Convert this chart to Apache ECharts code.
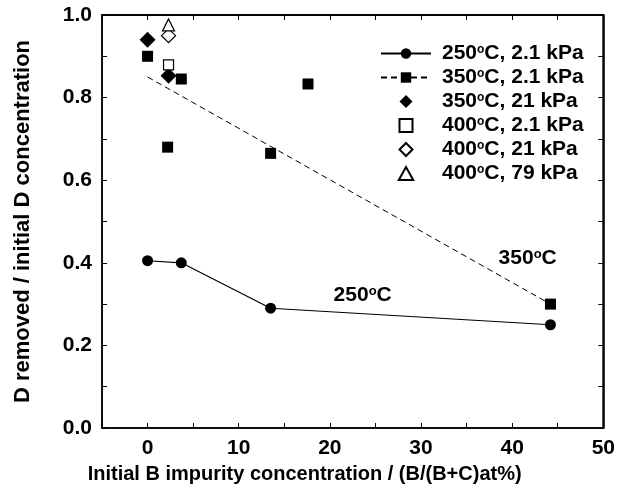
<!DOCTYPE html>
<html>
<head>
<meta charset="utf-8">
<script src="https://cdn.jsdelivr.net/npm/echarts@6/dist/echarts.min.js"></script>
<style>
  html, body { margin: 0; padding: 0; background: #fff; }
  #chart { width: 618px; height: 494px; }
</style>
</head>
<body>
<div id="chart"></div>
<script>
// data
const x250 = [0, 3.7, 13.5, 44.2];
const y250 = [0.405, 0.40, 0.29, 0.25];

const x350 = [0, 2.2, 3.7, 13.5, 17.6, 44.2];
const y350 = [0.90, 0.68, 0.845, 0.665, 0.833, 0.30];

// dashed fit through the 350°C, 2.1 kPa points
const xFit = [0, 44.2];
const yFit = [0.85, 0.30];

const x350hi = [0, 2.3];
const y350hi = [0.94, 0.853];

const x400a = [2.3];
const y400a = [0.879];
const x400b = [2.3];
const y400b = [0.95];
const x400c = [2.3];
const y400c = [0.976];

const names = [
  '250°C, 2.1 kPa',
  '350°C, 2.1 kPa',
  '350°C, 21 kPa',
  '400°C, 2.1 kPa',
  '400°C, 21 kPa',
  '400°C, 79 kPa'
];

const notes = ['350°C', '250°C'];
const noteX = [41.7, 23.6];
const noteY = [0.41, 0.321];

// axis ranges
const X_MIN = -5, X_MAX = 50, X_STEP = 5;
const Y_MIN = 0, Y_MAX = 1, Y_STEP = 0.1;

const pairs = (xs, ys) => xs.map((x, i) => [x, ys[i]]);
const degree = (s) => s.replace('°', '{o|o}');

const FONT = 'Liberation Sans, Arial, sans-serif';
const supStyle = { fontSize: 12, fontWeight: 'bold', fontFamily: FONT, color: '#000', verticalAlign: 'top', lineHeight: 13 };

// legend icons as paths so they keep their aspect
const ICON_DIAMOND = 'path://M5,0L10,5L5,10L0,5Z';
const ICON_SQUARE = 'path://M0,0L10,0L10,10L0,10Z';
const ICON_TRIANGLE = 'path://M5,0L10,9L0,9Z';

const chart = echarts.init(document.getElementById('chart'));

const axisBase = () => ({
  axisLine: { show: true, onZero: false, lineStyle: { color: '#000', width: 1.5 } },
  axisTick: { show: true, inside: true, length: 5, lineStyle: { color: '#000', width: 1 } },
  splitLine: { show: false }
});

const solidItem = { color: '#000', opacity: 1 };
const openItem = { color: '#fff', borderColor: '#000', borderWidth: 1.2, opacity: 1 };

const option = {
  animation: false,
  grid: { left: 102, right: 13, top: 15, bottom: 66, show: true, borderColor: '#000', borderWidth: 1.5 },
  legend: {
    data: [
      { name: names[0] },
      { name: names[1] },
      { name: names[2], icon: ICON_DIAMOND },
      { name: names[3], icon: ICON_SQUARE },
      { name: names[4], icon: ICON_DIAMOND },
      { name: names[5], icon: ICON_TRIANGLE }
    ],
    orient: 'vertical',
    left: 375,
    top: 38,
    itemWidth: 50,
    itemHeight: 13,
    itemGap: 3,
    formatter: (n) => degree(n),
    textStyle: {
      fontSize: 21,
      fontWeight: 'bold',
      fontFamily: FONT,
      color: '#000',
      lineHeight: 20,
      padding: [0, 0, 0, 6],
      rich: { o: supStyle }
    }
  },
  xAxis: [
    Object.assign(axisBase(), {
      type: 'value', min: X_MIN, max: X_MAX, interval: X_STEP, position: 'bottom',
      name: 'Initial B impurity concentration / (B/(B+C)at%)',
      nameLocation: 'middle', nameGap: 36,
      nameTextStyle: { fontSize: 20, fontWeight: 'bold', fontFamily: FONT, color: '#000', padding: [0, 96, 0, 0] },
      axisLabel: {
        margin: 10, fontSize: 21, fontWeight: 'bold', fontFamily: FONT, color: '#000',
        formatter: (v) => (Math.round(v) % 10 === 0 ? String(Math.round(v)) : '')
      }
    }),
    Object.assign(axisBase(), {
      type: 'value', min: X_MIN, max: X_MAX, interval: X_STEP, position: 'top',
      axisLabel: { show: false }
    })
  ],
  yAxis: [
    Object.assign(axisBase(), {
      type: 'value', min: Y_MIN, max: Y_MAX, interval: Y_STEP, position: 'left',
      name: 'D removed / initial D concentration',
      nameLocation: 'middle', nameGap: 68,
      nameTextStyle: { fontSize: 22, fontWeight: 'bold', fontFamily: FONT, color: '#000' },
      axisLabel: {
        margin: 10, fontSize: 21, fontWeight: 'bold', fontFamily: FONT, color: '#000',
        formatter: (v) => (Math.round(v * 10) % 2 === 0 ? v.toFixed(1) : '')
      }
    }),
    Object.assign(axisBase(), {
      type: 'value', min: Y_MIN, max: Y_MAX, interval: Y_STEP, position: 'right',
      axisLabel: { show: false }
    })
  ],
  series: [
    {
      // top and right edges of the plot frame, along the axis limits
      name: 'frame',
      type: 'line',
      silent: true,
      clip: false,
      symbol: 'none',
      z: 1,
      data: [[X_MIN, Y_MAX], [X_MAX, Y_MAX], [X_MAX, Y_MIN]],
      lineStyle: { color: '#000', width: 1.5 }
    },
    {
      name: names[0],
      type: 'line',
      data: pairs(x250, y250),
      symbol: 'circle',
      symbolSize: 11,
      itemStyle: solidItem,
      lineStyle: { color: '#000', width: 1.2 }
    },
    {
      // fit line first so the legend shows dashed line + square
      name: names[1],
      type: 'line',
      data: pairs(xFit, yFit),
      symbol: 'rect',
      showSymbol: false,
      itemStyle: solidItem,
      lineStyle: { color: '#000', width: 1, type: [6, 4] }
    },
    {
      name: names[1],
      type: 'scatter',
      data: pairs(x350, y350),
      symbol: 'rect',
      symbolSize: 11,
      itemStyle: solidItem
    },
    {
      name: names[2],
      type: 'scatter',
      data: pairs(x350hi, y350hi),
      symbol: 'diamond',
      symbolSize: 16,
      itemStyle: solidItem
    },
    {
      name: names[3],
      type: 'scatter',
      data: pairs(x400a, y400a),
      symbol: 'rect',
      symbolSize: 10,
      itemStyle: openItem
    },
    {
      name: names[4],
      type: 'scatter',
      data: pairs(x400b, y400b),
      symbol: 'diamond',
      symbolSize: 14,
      itemStyle: openItem
    },
    {
      name: names[5],
      type: 'scatter',
      data: pairs(x400c, y400c),
      symbol: 'triangle',
      symbolSize: 12,
      itemStyle: openItem
    },
    {
      // text notes sit on the top/right axes so those axes get a scale too
      name: 'notes',
      type: 'scatter',
      xAxisIndex: 1,
      yAxisIndex: 1,
      silent: true,
      symbolSize: 0,
      itemStyle: solidItem,
      data: notes.map((t, i) => ({ value: [noteX[i], noteY[i]], name: t })),
      label: {
        show: true,
        position: 'inside',
        formatter: (p) => degree(p.name),
        fontSize: 21,
        fontWeight: 'bold',
        fontFamily: FONT,
        color: '#000',
        lineHeight: 21,
        rich: { o: Object.assign({}, supStyle, { fontSize: 13, lineHeight: 14 }) }
      }
    }
  ]
};

chart.setOption(option);
</script>
</body>
</html>
